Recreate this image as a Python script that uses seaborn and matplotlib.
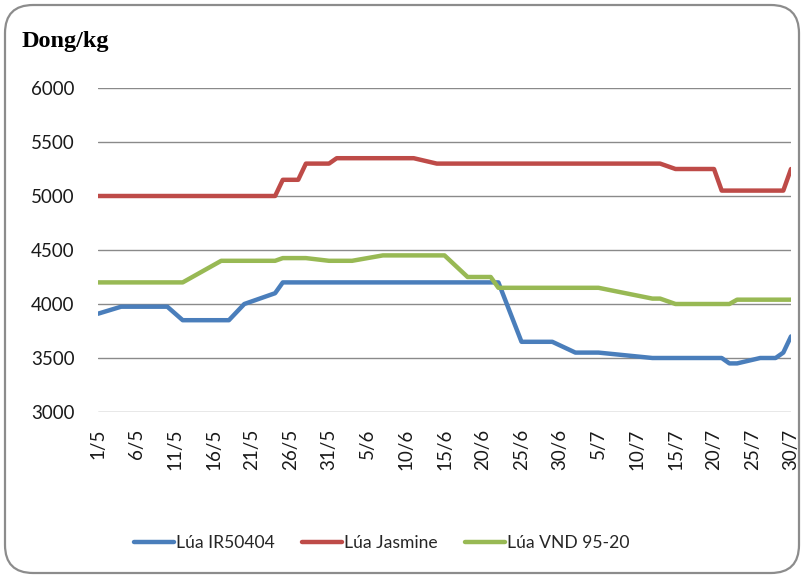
import matplotlib
matplotlib.use("Agg")
import matplotlib.pyplot as plt
import numpy as np
import pandas as pd
import seaborn as sns
from matplotlib.patches import FancyBboxPatch

# ---------------- data ----------------
series_names = ["Lúa IR50404", "Lúa Jasmine", "Lúa VND 95-20"]
series_colors = ["#4A7EBB", "#BE4B48", "#98B954"]

ir_dates = ["1/5", "4/5", "10/5", "12/5", "18/5", "20/5", "24/5", "25/5", "22/6",
            "25/6", "29/6", "2/7", "5/7", "12/7", "21/7", "22/7", "23/7", "26/7",
            "28/7", "29/7", "30/7"]
ir_values = [3910, 3975, 3975, 3850, 3850, 4000, 4100, 4200, 4200,
             3650, 3650, 3550, 3550, 3500, 3500, 3450, 3450, 3500,
             3500, 3550, 3700]

jas_dates = ["1/5", "24/5", "25/5", "27/5", "28/5", "31/5", "1/6", "11/6", "14/6",
             "13/7", "15/7", "20/7", "21/7", "29/7", "30/7"]
jas_values = [5000, 5000, 5150, 5150, 5300, 5300, 5350, 5350, 5300,
              5300, 5250, 5250, 5050, 5050, 5250]

vnd_dates = ["1/5", "12/5", "17/5", "24/5", "25/5", "28/5", "31/5", "3/6", "7/6",
             "15/6", "18/6", "21/6", "22/6", "5/7", "12/7", "13/7", "15/7", "22/7",
             "23/7", "30/7"]
vnd_values = [4200, 4200, 4400, 4400, 4425, 4425, 4400, 4400, 4450,
              4450, 4250, 4250, 4150, 4150, 4050, 4050, 4000, 4000,
              4040, 4040]

tick_labels = ["1/5", "6/5", "11/5", "16/5", "21/5", "26/5", "31/5", "5/6", "10/6",
               "15/6", "20/6", "25/6", "30/6", "5/7", "10/7", "15/7", "20/7",
               "25/7", "30/7"]
y_ticks = [3000, 3500, 4000, 4500, 5000, 5500, 6000]
y_label = "Dong/kg"


def to_dt(lst):
    return pd.to_datetime([f"{s}/2011" for s in lst], format="%d/%m/%Y")


frames = []
for name, d, v in zip(series_names,
                      [ir_dates, jas_dates, vnd_dates],
                      [ir_values, jas_values, vnd_values]):
    frames.append(pd.DataFrame({"date": to_dt(d), "price": v, "series": name}))
df = pd.concat(frames, ignore_index=True)

# ---------------- figure ----------------
sns.set_theme(style="white")
plt.rcParams["font.family"] = ["Lato", "DejaVu Sans"]

W, H = 804, 578
fig = plt.figure(figsize=(W / 100, H / 100), dpi=100)
fig.patch.set_facecolor("white")

# rounded outer frame
frame = FancyBboxPatch((5 / W, 5 / H), (W - 10) / W, (H - 10) / H,
                       boxstyle="round,pad=0,rounding_size=0.035",
                       transform=fig.transFigure, facecolor="none",
                       edgecolor="#8c8c8c", linewidth=1.6, zorder=-10,
                       mutation_aspect=W / H)
fig.patches.append(frame)

ax = fig.add_axes([98 / W, 1 - 412 / H, (791 - 98) / W, (412 - 88) / H])
ax.set_facecolor("none")
ax.set_zorder(5)

sns.lineplot(data=df, x="date", y="price", hue="series",
             hue_order=series_names, palette=series_colors,
             linewidth=3.2, ax=ax, legend=True, estimator=None, sort=False)

ax.set_xlim(to_dt(["1/5"])[0], to_dt(["30/7"])[0])
ax.set_ylim(3000, 6000)
ax.set_yticks(y_ticks)
ax.set_yticklabels([str(t) for t in y_ticks])
ax.set_xticks(to_dt(tick_labels))
ax.set_xticklabels(tick_labels, rotation=90)
ax.set_xlabel("")
ax.set_ylabel("")

for s in ax.spines.values():
    s.set_visible(False)
ax.yaxis.grid(True, color="#8a8a8a", linewidth=1.0)
ax.xaxis.grid(False)
ax.set_axisbelow(True)
ax.tick_params(axis="y", length=0, pad=17, labelsize=13.5, labelcolor="#1a1a1a")
ax.tick_params(axis="x", length=0, pad=12, labelsize=13.5, labelcolor="#1a1a1a")

fig.text(22 / W, 1 - 42 / H, y_label, fontsize=17.5, fontweight="bold",
         family=["Liberation Serif", "DejaVu Serif"], color="black", va="center")

handles, labels = ax.get_legend_handles_labels()
ax.legend(handles, labels, loc="center", bbox_to_anchor=(0.475, 1 - 543 / H),
          bbox_transform=fig.transFigure, ncol=3, frameon=False,
          fontsize=12.6, handlelength=2.3, handletextpad=0.12,
          columnspacing=1.55)

fig.savefig("out.png", dpi=100, facecolor="white")
